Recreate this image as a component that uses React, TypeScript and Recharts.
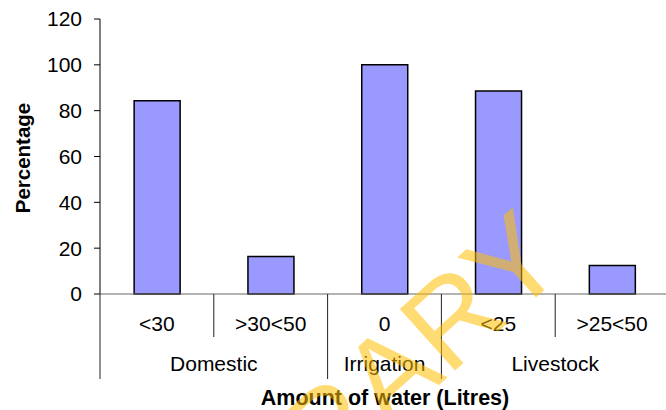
import { Bar, BarChart, XAxis, YAxis } from 'recharts'

const categories = ['<30', '>30<50', '0', '<25', '>25<50']
const groups = ['Domestic', 'Domestic', 'Irrigation', 'Livestock', 'Livestock']
const percentages = [84.3, 16.4, 100, 88.6, 12.4]
const yTicks = [0, 20, 40, 60, 80, 100, 120]

const data = categories.map((cat, i) => ({ cat, group: groups[i], pct: percentages[i] }))

const CHART_W = 672
const CHART_H = 410
const Y_AXIS_W = 100
const RIGHT = 3
const BAND = (CHART_W - Y_AXIS_W - RIGHT) / categories.length
const FONT = '"Liberation Sans", Arial, sans-serif'
const LABEL_SIZE = 21

// custom tick: category label, separator lines and the group label under it
const CategoryTick = (props: any) => {
  const { x, y, payload, index } = props
  const left = x - BAND / 2
  const right = x + BAND / 2
  const isGroupStart = index === 0 || groups[index] !== groups[index - 1]
  const isLast = index === categories.length - 1
  // group label centred across the categories that share it
  const members = groups.map((g, i) => (g === groups[index] ? i : -1)).filter((i) => i >= 0)
  const showGroup = members[0] === index
  const groupCenter = left + (members.length * BAND) / 2
  return (
    <g>
      <line x1={left} y1={y} x2={left} y2={y + (isGroupStart ? 85 : 43)} stroke="#222" strokeWidth={1} />
      {isLast && <line x1={right} y1={y} x2={right} y2={y + 85} stroke="#222" strokeWidth={1} />}
      <text x={x} y={y + 29} textAnchor="middle" dominantBaseline="central" fontSize={LABEL_SIZE} fill="#000" fontFamily={FONT}>
        {payload.value}
      </text>
      {showGroup && (
        <text x={groupCenter} y={y + 69} textAnchor="middle" dominantBaseline="central" fontSize={LABEL_SIZE} fill="#000" fontFamily={FONT}>
          {groups[index]}
        </text>
      )}
    </g>
  )
}

export default function App() {
  return (
    <div style={{ position: 'absolute', left: 0, top: 0, width: 666, height: 410, overflow: 'hidden', background: '#fff' }}>
      <BarChart
        width={CHART_W}
        height={CHART_H}
        data={data}
        margin={{ top: 19, right: RIGHT, left: 0, bottom: 0 }}
        barCategoryGap="30%"
      >
        <YAxis
          width={Y_AXIS_W}
          domain={[0, 120]}
          ticks={yTicks}
          interval={0}
          tickSize={6}
          tickMargin={12}
          axisLine={{ stroke: '#000' }}
          tickLine={{ stroke: '#000' }}
          tick={{ fontSize: LABEL_SIZE, fill: '#000', fontFamily: FONT }}
        />
        <XAxis
          dataKey="cat"
          height={116}
          interval={0}
          tickSize={0}
          tickMargin={0}
          tickLine={false}
          axisLine={{ stroke: '#666' }}
          tick={<CategoryTick />}
        />
        <Bar dataKey="pct" fill="#9999FF" stroke="#000" strokeWidth={1.5} isAnimationActive={false} />
      </BarChart>
      <svg width={666} height={410} style={{ position: 'absolute', left: 0, top: 0, pointerEvents: 'none' }}>
        <text
          x={22}
          y={158}
          transform="rotate(-90 22 158)"
          textAnchor="middle"
          dominantBaseline="central"
          fontSize={20.5}
          fontWeight="bold"
          fontFamily={FONT}
        >
          Percentage
        </text>
        <text x={385} y={398} textAnchor="middle" dominantBaseline="central" fontSize={21.5} fontWeight="bold" fontFamily={FONT}>
          Amount of water (Litres)
        </text>
        <text
          x={570}
          y={267}
          transform="rotate(-42 570 267)"
          textAnchor="end"
          fontSize={120}
          fill="#ffc000"
          fillOpacity={0.55}
          fontFamily={FONT}
        >
          LIBRARY
        </text>
      </svg>
    </div>
  )
}
